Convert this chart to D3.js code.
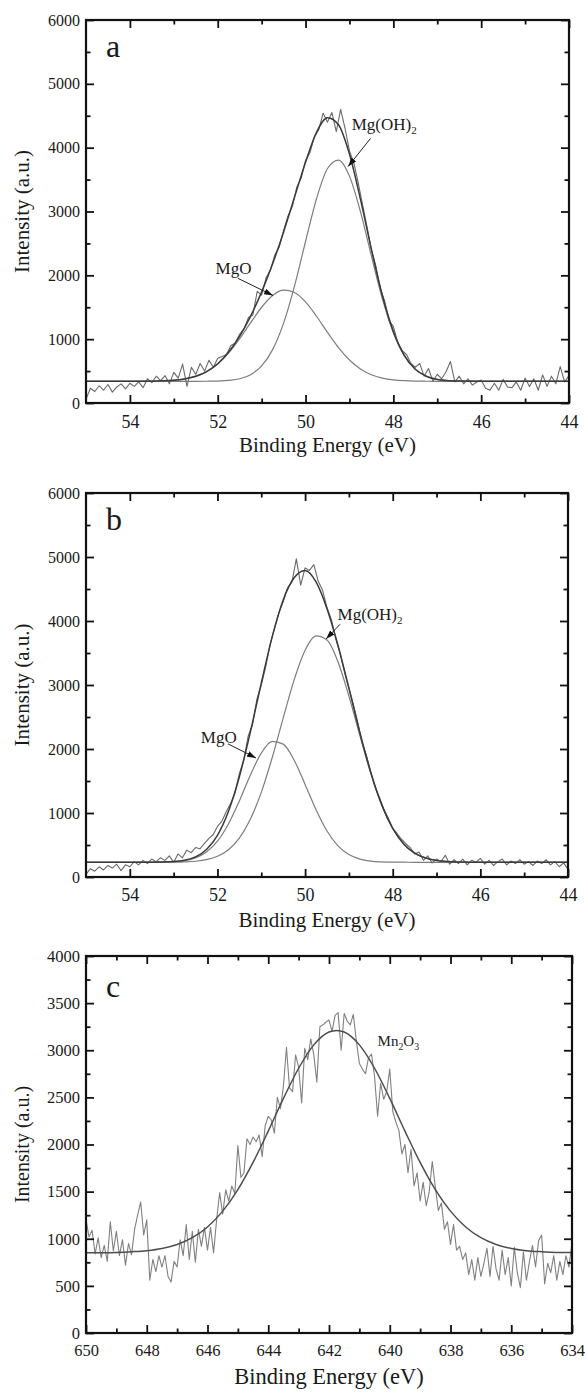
<!DOCTYPE html>
<html>
<head>
<meta charset="utf-8">
<script src="https://cdn.jsdelivr.net/npm/d3@7"></script>
<style>
body { margin: 0; background: #fff; }
text { font-family: "Liberation Serif", "Times New Roman", serif; fill: #1a1a1a; }
</style>
</head>
<body>
<div id="chart"></div>
<script>
// raw XPS counts, one value every 0.1 eV starting at the left edge
var rawStep = 0.1;

var rawA = [60, 230, 180, 270, 200, 290, 170, 250, 300, 220,
    310, 260, 330, 240, 380, 320, 420, 350, 430, 300,
    480, 390, 610, 260, 560, 450, 620, 500, 670, 560,
    700, 730, 760, 900, 940, 1080, 1160, 1340, 1380, 1750,
    1690, 1960, 2080, 2320, 2440, 2700, 2930, 3080, 3380, 3520,
    3800, 3920, 4170, 4280, 4540, 4400, 4550, 4250, 4600, 4300,
    3950, 3760, 3450, 3100, 2760, 2400, 2150, 1800, 1600, 1290,
    1200, 940, 820, 760, 620, 560, 620, 420, 540, 340,
    450, 380, 490, 650, 330, 420, 300, 380, 280, 330,
    360, 230, 200, 310, 200, 370, 250, 240, 330, 200,
    390, 260, 380, 200, 440, 260, 420, 300, 570, 330,
    430
];

var rawB = [40, 130, 90, 160, 110, 180, 140, 200, 100, 190,
    160, 240, 190, 260, 210, 280, 240, 300, 260, 330,
    230, 360, 300, 420, 380, 460, 440, 520, 600, 660,
    790, 870, 1020, 1150, 1310, 1620, 1820, 2200, 2380, 2780,
    3000, 3280, 3630, 3880, 4120, 4300, 4520, 4610, 4970, 4560,
    4830, 4790, 4880, 4620, 4480, 4210, 4020, 3720, 3490, 3200,
    2960, 2700, 2420, 2100, 1900, 1640, 1400, 1240, 1050, 920,
    760, 680, 590, 520, 460, 360, 390, 260, 330, 220,
    280, 240, 340, 200, 270, 210, 280, 190, 260, 230,
    290, 200, 260, 180, 240, 280, 190, 250, 210, 270,
    200, 240, 180, 250, 210, 270, 190, 240, 160, 220,
    120
];

var rawC = [1200, 1020, 1090, 840, 1010, 800, 930, 760, 1180, 870,
    1080, 820, 990, 720, 950, 830, 1100, 1250, 1390, 1040,
    1200, 560, 780, 650, 820, 700, 820, 600, 540, 760,
    700, 990, 820, 1150, 780, 1080, 750, 1100, 920, 1120,
    880, 1120, 850, 1200, 1490, 1260, 1520, 1400, 1560, 1480,
    1990, 1650, 1700, 2060, 2000, 2080, 2030, 2100, 1870, 2200,
    2300, 2260, 2120, 2500, 2380, 2620, 3030, 2600, 2560, 2950,
    2820, 2440, 3020, 2900, 3120, 2950, 2660, 3250, 3270, 3300,
    3320, 3200, 3370, 3400, 3000, 3390, 3310, 3270, 3380, 3100,
    2860, 2800, 2750, 2920, 2960, 2720, 2300, 2650, 2480, 2560,
    2800, 2350, 2240, 2150, 1900, 2000, 1700, 1950, 1560, 1700,
    1400, 1600, 1350, 1500, 1820, 1550, 1300, 1380, 1100, 1180,
    940, 1150, 880, 920, 780, 850, 620, 780, 560, 800,
    600, 740, 900, 600, 920, 680, 560, 880, 620, 800,
    500, 910, 640, 480, 860, 560, 760, 930, 700, 980,
    1040, 520, 740, 640, 820, 560, 760, 620, 820, 700,
    960
];

// fitted curves (Mg 2p), read on this energy grid
var fitEnergyAB = [55, 54, 53.5, 53, 52.75, 52.5, 52.25, 52, 51.75, 51.5, 51.25, 51, 50.75,
    50.5, 50.25, 50, 49.75, 49.5, 49.25, 49, 48.75, 48.5, 48.25, 48, 47.75, 47.5,
    47.25, 47, 46.75, 46.5, 46, 45, 44];

var mgoA = [340, 340, 342, 356, 377, 418, 492, 611, 784, 1007, 1258, 1500, 1684,
    1768, 1731, 1583, 1359, 1106, 868, 674, 534, 443, 390, 362, 349, 343,
    341, 340, 340, 340, 340, 340, 340];
var mgohA = [340, 340, 340, 340, 340, 340, 341, 344, 354, 380, 444, 581, 836,
    1252, 1836, 2530, 3200, 3673, 3805, 3554, 2999, 2303, 1633, 1100, 738, 526,
    418, 369, 350, 343, 340, 340, 340];
var envelopeA = [340, 340, 342, 356, 377, 418, 493, 615, 798, 1047, 1362, 1741, 2180,
    2680, 3227, 3773, 4240, 4470, 4360, 3900, 3193, 2406, 1683, 1122, 747, 529,
    419, 369, 350, 343, 340, 340, 340];

var mgoB = [230, 230, 231, 239, 256, 299, 390, 559, 828, 1189, 1591, 1935, 2118,
    2076, 1825, 1447, 1051, 719, 487, 350, 279, 248, 236, 232, 231, 230,
    230, 230, 230, 230, 230, 230, 230];
var mgohB = [230, 230, 230, 232, 236, 246, 271, 323, 426, 608, 901, 1323, 1867,
    2483, 3080, 3543, 3768, 3703, 3363, 2827, 2208, 1615, 1121, 757, 516, 373,
    296, 258, 241, 234, 230, 230, 230];
var envelopeB = [230, 230, 231, 241, 262, 315, 431, 652, 1024, 1567, 2262, 3028, 3755,
    4329, 4675, 4790, 4610, 4192, 3620, 2947, 2257, 1633, 1127, 759, 517, 373,
    296, 258, 241, 234, 230, 230, 230];

// Mn 2p fit
var fitEnergyC = [650, 649.5, 649, 648.5, 648, 647.5, 647, 646.5, 646, 645.5, 645, 644.5,
    644, 643.5, 643, 642.5, 642, 641.75, 641.5, 641, 640.5, 640, 639.5, 639, 638.5,
    638, 637.5, 637, 636.5, 636, 635.5, 635, 634.5, 634];
var mn2o3C = [851, 852, 855, 862, 873, 896, 939, 1011, 1125, 1293, 1522, 1810,
    2142, 2489, 2809, 3057, 3193, 3210, 3193, 3057, 2809, 2489, 2142, 1810, 1522,
    1293, 1125, 1011, 939, 896, 873, 862, 855, 853];

// tick values
var xTicksAB = [54, 52, 50, 48, 46, 44];
var xMinorAB = [53, 51, 49, 47, 45];
var yTicksAB = [0, 1000, 2000, 3000, 4000, 5000, 6000];
var yMinorAB = [500, 1500, 2500, 3500, 4500, 5500];
var xTicksC = [650, 648, 646, 644, 642, 640, 638, 636, 634];
var xMinorC = [649, 647, 645, 643, 641, 639, 637, 635];
var yTicksC = [0, 500, 1000, 1500, 2000, 2500, 3000, 3500, 4000];
var yMinorC = [250, 750, 1250, 1750, 2250, 2750, 3250, 3750];

// peak labels, in data units
var notesA = [
    { label: ['MgO'], x: 52.05, y: 2020, from: [51.54, 1953], to: [50.74, 1684] },
    { label: ['Mg(OH)', '2'], x: 48.95, y: 4275, from: [48.52, 4145], to: [49.03, 3705] }
];
var notesB = [
    { label: ['MgO'], x: 52.38, y: 2100, from: [51.76, 2080], to: [51.12, 1860] },
    { label: ['Mg(OH)', '2'], x: 49.26, y: 4016, from: [49.2, 3950], to: [49.52, 3720] }
];
var notesC = [
    { label: ['Mn', '2', 'O', '3'], x: 640.4, y: 3049 }
];

var width = 585,
    height = 1394;

var panels = [
    { letter: 'a', top: 20, bottom: 403, left: 86, right: 569,
      xDomain: [55, 44], yDomain: [0, 6000],
      xTicks: xTicksAB, xMinor: xMinorAB, yTicks: yTicksAB, yMinor: yMinorAB,
      xFont: 18, yFont: 16, xPad: 12, titleGap: 49, titleFont: 21, yTitleFont: 21, letterDy: 37, noteFont: 17,
      raw: rawA, fitX: fitEnergyAB, fits: [mgoA, mgohA], envelope: envelopeA, notes: notesA },
    { letter: 'b', top: 493, bottom: 877, left: 86, right: 568,
      xDomain: [55, 44], yDomain: [0, 6000],
      xTicks: xTicksAB, xMinor: xMinorAB, yTicks: yTicksAB, yMinor: yMinorAB,
      xFont: 18, yFont: 16, xPad: 11, titleGap: 50, titleFont: 21, yTitleFont: 21, letterDy: 37, noteFont: 17,
      raw: rawB, fitX: fitEnergyAB, fits: [mgoB, mgohB], envelope: envelopeB, notes: notesB },
    { letter: 'c', top: 956, bottom: 1333, left: 86, right: 572,
      xDomain: [650, 634], yDomain: [0, 4000],
      xTicks: xTicksC, xMinor: xMinorC, yTicks: yTicksC, yMinor: yMinorC,
      xFont: 16.5, yFont: 16.5, xPad: 11, titleGap: 51, titleFont: 22.5, yTitleFont: 20, letterDy: 41, noteFont: 15,
      raw: rawC, fitX: fitEnergyC, fits: [], envelope: mn2o3C, notes: notesC, single: true }
];

var svg = d3.select('#chart').append('svg')
    .attr('width', width)
    .attr('height', height)
    .style('background', '#fff');

var defs = svg.append('defs');
defs.append('marker')
    .attr('id', 'arrow')
    .attr('markerUnits', 'userSpaceOnUse')
    .attr('markerWidth', 9)
    .attr('markerHeight', 6)
    .attr('refX', 9)
    .attr('refY', 3)
    .attr('orient', 'auto')
    .append('path')
    .attr('d', 'M0,0L9,3L0,6Z')
    .attr('fill', '#111');

function zipXY(xs, ys) {
    return ys.map(function (v, i) { return [xs[i], v]; });
}

function rawPoints(start, values) {
    return values.map(function (v, i) { return [+(start - i * rawStep).toFixed(2), v]; });
}

function styleAxis(sel, size) {
    sel.select('.domain').remove();
    sel.attr('font-family', '"Liberation Serif", "Times New Roman", serif')
        .attr('font-size', size);
    sel.selectAll('line').attr('stroke', '#111').attr('stroke-width', 1.8);
    sel.selectAll('text').attr('fill', '#1a1a1a');
}

panels.forEach(function (p, k) {
    var x = d3.scaleLinear().domain(p.xDomain).range([p.left, p.right]);
    var y = d3.scaleLinear().domain(p.yDomain).range([p.bottom, p.top]);
    var g = svg.append('g');

    defs.append('clipPath').attr('id', 'clip' + k)
        .append('rect')
        .attr('x', p.left).attr('y', p.top)
        .attr('width', p.right - p.left).attr('height', p.bottom - p.top);

    var line = d3.line()
        .x(function (d) { return x(d[0]); })
        .y(function (d) { return y(d[1]); });
    var smooth = d3.line()
        .x(function (d) { return x(d[0]); })
        .y(function (d) { return y(d[1]); })
        .curve(d3.curveMonotoneX);

    var plot = g.append('g').attr('clip-path', 'url(#clip' + k + ')');

    p.fits.forEach(function (f) {
        plot.append('path')
            .attr('d', smooth(zipXY(p.fitX, f)))
            .attr('fill', 'none')
            .attr('stroke', '#7d7d7d')
            .attr('stroke-width', 1.2);
    });

    plot.append('path')
        .attr('d', line(rawPoints(p.xDomain[0], p.raw)))
        .attr('fill', 'none')
        .attr('stroke', p.single ? '#808080' : '#6a6a6a')
        .attr('stroke-width', 1.1)
        .attr('stroke-linejoin', 'round');

    plot.append('path')
        .attr('d', smooth(zipXY(p.fitX, p.envelope)))
        .attr('fill', 'none')
        .attr('stroke', p.single ? '#4d4d4d' : '#3a3a3a')
        .attr('stroke-width', 1.5);

    // inward ticks on all four sides
    g.append('g').attr('transform', 'translate(0,' + p.bottom + ')')
        .call(d3.axisBottom(x).tickValues(p.xTicks).tickSize(-8).tickPadding(p.xPad).tickFormat(d3.format('d')))
        .call(styleAxis, p.xFont);
    g.append('g').attr('transform', 'translate(0,' + p.bottom + ')')
        .call(d3.axisBottom(x).tickValues(p.xMinor).tickSize(-4.5).tickFormat(''))
        .call(styleAxis, p.xFont);
    g.append('g').attr('transform', 'translate(0,' + p.top + ')')
        .call(d3.axisTop(x).tickValues(p.xTicks).tickSize(-8).tickFormat(''))
        .call(styleAxis, p.xFont);
    g.append('g').attr('transform', 'translate(0,' + p.top + ')')
        .call(d3.axisTop(x).tickValues(p.xMinor).tickSize(-4.5).tickFormat(''))
        .call(styleAxis, p.xFont);

    g.append('g').attr('transform', 'translate(' + p.left + ',0)')
        .call(d3.axisLeft(y).tickValues(p.yTicks).tickSize(-8).tickPadding(6).tickFormat(d3.format('d')))
        .call(styleAxis, p.yFont);
    g.append('g').attr('transform', 'translate(' + p.left + ',0)')
        .call(d3.axisLeft(y).tickValues(p.yMinor).tickSize(-4.5).tickFormat(''))
        .call(styleAxis, p.yFont);
    g.append('g').attr('transform', 'translate(' + p.right + ',0)')
        .call(d3.axisRight(y).tickValues(p.yTicks).tickSize(-8).tickFormat(''))
        .call(styleAxis, p.yFont);
    g.append('g').attr('transform', 'translate(' + p.right + ',0)')
        .call(d3.axisRight(y).tickValues(p.yMinor).tickSize(-4.5).tickFormat(''))
        .call(styleAxis, p.yFont);

    g.append('rect')
        .attr('x', p.left).attr('y', p.top)
        .attr('width', p.right - p.left).attr('height', p.bottom - p.top)
        .attr('fill', 'none')
        .attr('stroke', '#111')
        .attr('stroke-width', 2.2);

    g.append('text')
        .attr('x', (p.left + p.right) / 2)
        .attr('y', p.bottom + p.titleGap)
        .attr('text-anchor', 'middle')
        .style('font-size', p.titleFont + 'px')
        .text('Binding Energy (eV)');

    g.append('text')
        .attr('transform', 'translate(22,' + ((p.top + p.bottom) / 2) + ') rotate(-90)')
        .attr('text-anchor', 'middle')
        .attr('dy', '0.35em')
        .style('font-size', p.yTitleFont + 'px')
        .text('Intensity (a.u.)');

    g.append('text')
        .attr('x', p.left + 20)
        .attr('y', p.top + p.letterDy)
        .style('font-size', '32px')
        .text(p.letter);

    p.notes.forEach(function (n) {
        var t = g.append('text')
            .attr('x', x(n.x))
            .attr('y', y(n.y))
            .style('font-size', p.noteFont + 'px');
        n.label.forEach(function (part, i) {
            var sub = i % 2 === 1;
            t.append('tspan')
                .attr('dy', sub ? 4 : (i > 0 ? -4 : 0))
                .style('font-size', sub ? (p.noteFont * 0.65) + 'px' : null)
                .text(part);
        });
        if (n.from) {
            g.append('line')
                .attr('x1', x(n.from[0])).attr('y1', y(n.from[1]))
                .attr('x2', x(n.to[0])).attr('y2', y(n.to[1]))
                .attr('stroke', '#222')
                .attr('stroke-width', 1)
                .attr('marker-end', 'url(#arrow)');
        }
    });
});
</script>
</body>
</html>
